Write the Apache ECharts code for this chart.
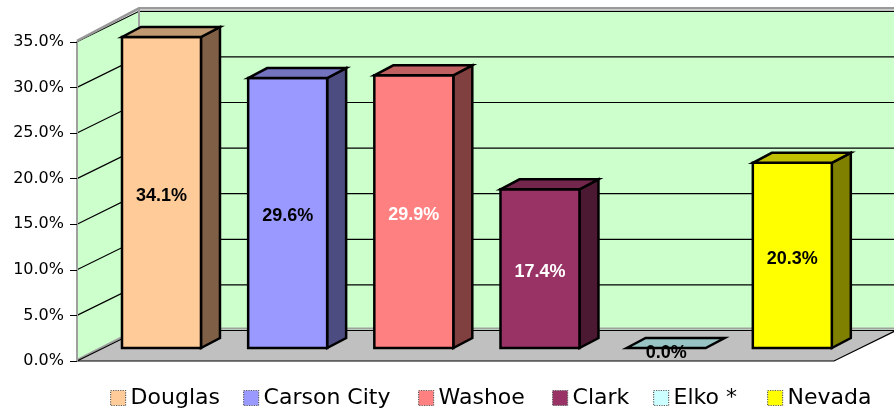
<!DOCTYPE html>
<html>
<head>
<meta charset="utf-8">
<script src="https://cdn.jsdelivr.net/npm/echarts@6/dist/echarts.min.js"></script>
<style>
html,body{margin:0;padding:0;background:#fff;}
#chart{width:894px;height:414px;}
</style>
</head>
<body>
<div id="chart"></div>
<script>
// ---- data ----
const categories = ['Douglas', 'Carson City', 'Washoe', 'Clark', 'Elko *', 'Nevada'];
const values = [34.1, 29.6, 29.9, 17.4, 0.0, 20.3];
const valueLabels = ['34.1%', '29.6%', '29.9%', '17.4%', '0.0%', '20.3%'];
const yTicks = [0, 5, 10, 15, 20, 25, 30, 35];

// ---- styles ----
const frontColors = ['#FFCC99', '#9999FF', '#FF8080', '#993366', '#CCFFFF', '#FFFF00'];
const topColors = ['#C09970', '#7373BF', '#C06060', '#73264C', '#99C4C4', '#C0C000'];
const sideColors = ['#7F6047', '#4C4C80', '#804040', '#4C1933', '#668080', '#808000'];
const labelColors = ['#000', '#000', '#fff', '#fff', '#000', '#000'];
const legendLefts = [110, 243, 418, 552, 653, 767];

const FRONT = [-21.4, 13];   // front plane offset relative to bar plane
const BACK = [40.6, -17.5];  // back wall offset relative to bar plane
const BAR_DEPTH = [19, -10];

const chart = echarts.init(document.getElementById('chart'), null, {renderer: 'canvas'});

function wallsRender(params, api) {
  const band = api.size([1, 0])[0];
  const n = categories.length;
  const x0 = api.coord([0, 0])[0] - band / 2;
  const x1 = api.coord([n - 1, 0])[0] + band / 2;
  const y0 = api.coord([0, 0])[1];
  const yT = api.coord([0, yTicks[yTicks.length - 1]])[1];
  const fx = FRONT[0], fy = FRONT[1], bx = BACK[0], by = BACK[1];
  const children = [];
  children.push({type: 'polygon', shape: {points: [[x0 + bx, y0 + by], [x1 + bx, y0 + by], [x1 + bx, yT + by], [x0 + bx, yT + by]]},
    style: {fill: '#CCFFCC'}});
  children.push({type: 'polygon', shape: {points: [[x0 + fx, y0 + fy], [x0 + fx, yT + fy], [x0 + bx, yT + by], [x0 + bx, y0 + by]]},
    style: {fill: '#CCFFCC'}});
  children.push({type: 'polyline', shape: {points: [[x0 + fx, y0 + fy - 1], [x0 + bx, y0 + by - 2], [x1 + bx + 10, y0 + by - 2]]},
    style: {stroke: '#A0A0A0', lineWidth: 2, fill: null}});
  children.push({type: 'polygon', shape: {points: [[x0 + fx, y0 + fy], [x1 + fx, y0 + fy], [x1 + bx, y0 + by], [x0 + bx, y0 + by]]},
    style: {fill: '#C0C0C0'}});
  children.push({type: 'polyline', shape: {points: [[x0 + fx, y0 + fy], [x1 + fx, y0 + fy], [x1 + bx, y0 + by]]},
    style: {stroke: '#000', lineWidth: 1.2, fill: null}});
  yTicks.forEach(function (t) {
    const y = api.coord([0, t])[1];
    children.push({type: 'polyline', shape: {points: [[x0 + fx, y + fy], [x0 + bx, y + by], [x1 + bx + 10, y + by]]},
      style: {stroke: '#000', lineWidth: 1.2, fill: null}});
  });
  children.push({type: 'line', shape: {x1: x0 + bx, y1: yT + by - 3, x2: x0 + bx, y2: y0 + by},
    style: {stroke: '#A0A0A0', lineWidth: 2}});
  children.push({type: 'polyline', shape: {points: [[x0 + fx, yT + fy - 1], [x0 + bx, yT + by - 3], [x1 + bx + 10, yT + by - 3]]},
    style: {stroke: '#999999', lineWidth: 2.5, fill: null}});
  return {type: 'group', children: children};
}

function makeBarRender(i) {
  return function (params, api) {
    const v = api.value(1);
    const p = api.coord([api.value(0), v]);
    const b = api.coord([api.value(0), 0]);
    const w = api.size([1, 0])[0] * 0.626;
    const L = p[0] - w / 2, R = p[0] + w / 2, T = p[1], B = b[1];
    const dx = BAR_DEPTH[0], dy = BAR_DEPTH[1];
    const st = {stroke: '#000', lineWidth: 2.5, lineJoin: 'miter'};
    const children = [];
    if (B - T > 0.5) {
      children.push({type: 'polygon', shape: {points: [[R, T], [R + dx, T + dy], [R + dx, B + dy], [R, B]]},
        style: Object.assign({fill: sideColors[i]}, st)});
      children.push({type: 'rect', shape: {x: L, y: T, width: w, height: B - T},
        style: Object.assign({fill: frontColors[i]}, st)});
    }
    children.push({type: 'polygon', shape: {points: [[L, T], [L + dx, T + dy], [R + dx, T + dy], [R, T]]},
      style: Object.assign({fill: topColors[i]}, st)});
    children.push({type: 'text', x: p[0], y: (T + B) / 2 + (B - T > 0.5 ? 3.5 : 5),
      style: {text: valueLabels[i], fill: labelColors[i], font: 'bold 18px "Liberation Sans", Arial, sans-serif',
        align: 'center', verticalAlign: 'middle'}});
    return {type: 'group', children: children};
  };
}

const series = [{
  type: 'custom', name: '_walls', xAxisIndex: 0, yAxisIndex: 0, z: 1,
  renderItem: wallsRender, data: [[0, 0]], silent: true, clip: false
}];
categories.forEach(function (c, i) {
  series.push({
    type: 'custom', name: c, xAxisIndex: 0, yAxisIndex: 0, z: 3, clip: false,
    itemStyle: {color: frontColors[i]},
    renderItem: makeBarRender(i),
    data: [[i, values[i]]]
  });
});

const legends = categories.map(function (c, i) {
  return {
    data: [c], left: legendLefts[i], top: 386, padding: 0,
    itemWidth: 15, itemHeight: 15, icon: 'rect', selectedMode: false,
    itemStyle: {borderColor: '#606060', borderWidth: 1.2, borderType: 'dotted'},
    textStyle: {fontSize: 22, fontFamily: '"DejaVu Sans", Verdana, sans-serif', color: '#000', lineHeight: 24}
  };
});

chart.setOption({
  animation: false,
  backgroundColor: '#ffffff',
  grid: [
    {left: 98.4, width: 757, top: 28.8, height: 319.2},
    {left: 77, width: 757, top: 41.8, height: 319.2}
  ],
  xAxis: [
    {type: 'category', gridIndex: 0, data: categories, show: false},
    {type: 'category', gridIndex: 1, data: categories, show: false}
  ],
  yAxis: [
    {type: 'value', gridIndex: 0, min: 0, max: 35, interval: 5, show: false},
    {type: 'value', gridIndex: 1, min: 0, max: 35, interval: 5, z: 5,
      axisLine: {show: true, lineStyle: {color: '#A0A0A0', width: 2}},
      axisTick: {show: true, length: 7, lineStyle: {color: '#000', width: 1}},
      splitLine: {show: false},
      axisLabel: {margin: 13, color: '#000', fontSize: 16, fontFamily: '"DejaVu Sans", Verdana, sans-serif',
        formatter: function (v) { return v.toFixed(1) + '%'; }}}
  ],
  legend: legends,
  series: series
});
</script>
</body>
</html>
